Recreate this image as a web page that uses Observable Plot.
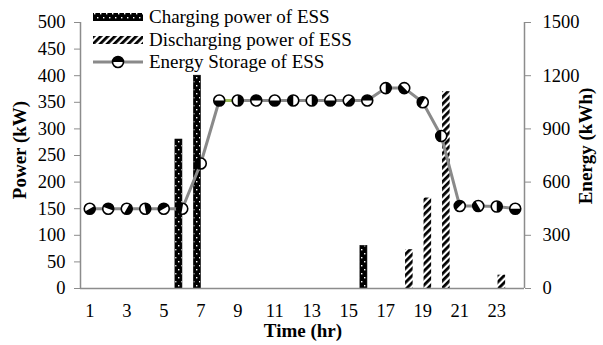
<!DOCTYPE html>
<html>
<head>
<meta charset="utf-8">
<script src="https://cdn.jsdelivr.net/npm/d3@7"></script>
<script src="https://cdn.jsdelivr.net/npm/@observablehq/plot@0.6"></script>
<style>
  body { margin: 0; background: #fff; }
  #wrap { position: relative; width: 603px; height: 345px; font-family: "Liberation Serif", "Times New Roman", serif; }
  #wrap svg text { font-family: "Liberation Serif", "Times New Roman", serif !important; }
  .lg { position: absolute; left: 93px; height: 22px; display: flex; align-items: center; font-size: 19px; color: #000; white-space: nowrap; }
  .lg svg { margin-right: 6px; }
  .ttl { position: absolute; font-weight: bold; font-size: 19px; color: #000; white-space: nowrap; line-height: 1; }
</style>
</head>
<body>
<svg width="0" height="0" style="position:absolute">
  <defs>
    <pattern id="chargePat" patternUnits="userSpaceOnUse" width="6" height="8">
      <rect width="6" height="8" fill="#000"></rect>
      <rect x="1" y="1" width="1.4" height="1.4" fill="#fff"></rect>
      <rect x="4" y="5" width="1.4" height="1.4" fill="#fff"></rect>
    </pattern>
    <pattern id="dischargePat" patternUnits="userSpaceOnUse" width="5" height="5" patternTransform="rotate(45)">
      <rect width="5" height="5" fill="#fff"></rect>
      <rect width="2.8" height="5" fill="#000"></rect>
    </pattern>
  </defs>
</svg>
<div id="wrap"></div>
<script>
// ---- data ----
const hours = d3.range(1, 25);
const chargingPower = [0,0,0,0,0,280,400,0,0,0,0,0,0,0,0,80,0,0,0,0,0,0,0,0];
const dischargingPower = [0,0,0,0,0,0,0,0,0,0,0,0,0,0,0,0,0,73,170,370,0,0,25,0];
const energyStorage = [450,450,450,450,450,450,705,1060,1060,1060,1060,1060,1060,1060,1060,1060,1130,1130,1050,860,465,465,462,450];
const xTickLabels = [1,3,5,7,9,11,13,15,17,19,21,23];
const powerTicks = [0,50,100,150,200,250,300,350,400,450,500];
const energyTicks = [0,300,600,900,1200,1500];
const seriesNames = ["Charging power of ESS", "Discharging power of ESS", "Energy Storage of ESS"];
const axisTitles = {y: "Power (kW)", y2: "Energy (kWh)", x: "Time (hr)"};

// ---- tables ----
const chargeRows = hours.map((h, i) => ({hour: h, value: chargingPower[i]})).filter(d => d.value > 0);
const dischargeRows = hours.map((h, i) => ({hour: h, value: dischargingPower[i]})).filter(d => d.value > 0);
const energyRows = hours.map((h, i) => ({hour: h, energy: energyStorage[i]}));
const ratio = 3; // right axis (kWh) / left axis (kW)

// marker styling (half-filled circles, orientation varies)
const markerAngles = [-30,200,-60,-100,150,100,90,0,-90,180,0,90,270,0,-45,180,-90,45,120,90,135,60,270,0];
function halfDisk(deg) {
  const a = deg * Math.PI / 180;
  return {draw(ctx, size) {
    const r = Math.sqrt(size / Math.PI);
    ctx.moveTo(0, 0);
    ctx.lineTo(r * Math.cos(a), r * Math.sin(a));
    ctx.arc(0, 0, r, a, a + Math.PI);
    ctx.closePath();
  }};
}
const uniqueAngles = Array.from(new Set(markerAngles));
const halfMarks = uniqueAngles.map(ang => Plot.dot(
  energyRows.filter((d, i) => markerAngles[i] === ang),
  {x: "hour", y: d => d.energy / ratio, r: 5.5, symbol: halfDisk(ang), fill: "#000", stroke: "none"}
));

const gray = "#8c8c8c";
const ff = "Liberation Serif";
const chart = Plot.plot({
  width: 603,
  height: 345,
  marginLeft: 80,
  marginRight: 79,
  marginTop: 22,
  marginBottom: 57,
  style: {fontFamily: "'Liberation Serif', 'Times New Roman', serif", fontSize: "18px", color: "#000", background: "transparent"},
  x: {domain: [0.5, 24.5], axis: null},
  y: {domain: [0, 500], axis: null},
  marks: [
    Plot.rectY(chargeRows, {x1: d => d.hour - 0.37, x2: d => d.hour + 0.01, y: "value", fill: "url(#chargePat)", stroke: "#000", strokeWidth: 0.6}),
    Plot.rectY(dischargeRows, {x1: d => d.hour + 0.07, x2: d => d.hour + 0.48, y: "value", fill: "url(#dischargePat)"}),
    Plot.ruleX([0.5], {stroke: gray, strokeWidth: 1.5}),
    Plot.ruleX([24.5], {stroke: gray, strokeWidth: 1.5}),
    Plot.ruleY([0], {stroke: gray, strokeWidth: 1.5}),
    Plot.axisY(powerTicks, {anchor: "left", tickSize: 6, tickPadding: 9, stroke: gray, fill: "#000", fontFamily: ff, fontSize: 18.5, label: null}),
    Plot.axisY(energyTicks.map(v => v / ratio), {anchor: "right", tickSize: 6, tickPadding: 12, stroke: gray, fill: "#000", fontFamily: ff, fontSize: 18.5, tickFormat: d => String(Math.round(d * ratio)), label: null}),
    Plot.axisX(xTickLabels, {anchor: "bottom", tickSize: 0, tickPadding: 15, fill: "#000", fontFamily: ff, fontSize: 18.5, tickFormat: d => String(d), label: null}),
    Plot.line(energyRows, {x: "hour", y: d => d.energy / ratio, stroke: "#8a8a8a", strokeWidth: 3}),
    Plot.line(energyRows.filter(d => d.hour >= 8 && d.hour <= 9), {x: "hour", y: d => d.energy / ratio, stroke: "#9bbb59", strokeWidth: 3}),
    Plot.dot(energyRows, {x: "hour", y: d => d.energy / ratio, r: 5.5, fill: "#fff", stroke: "none"}),
    ...halfMarks,
    Plot.dot(energyRows, {x: "hour", y: d => d.energy / ratio, r: 5.5, fill: "none", stroke: "#000", strokeWidth: 1.6})
  ]
});
const wrap = document.getElementById("wrap");
wrap.appendChild(chart);
d3.select(chart).selectAll("text").style("font-family", "'Liberation Serif', 'Times New Roman', serif");

// ---- axis titles ----
function addTitle(text, cx, cy, rot) {
  const el = document.createElement("div");
  el.className = "ttl";
  el.textContent = text;
  el.style.left = cx + "px";
  el.style.top = cy + "px";
  el.style.transform = `translate(-50%,-50%)` + (rot ? ` rotate(${rot}deg)` : "");
  wrap.appendChild(el);
}
addTitle(axisTitles.y, 19, 150, -90);
addTitle(axisTitles.y2, 585, 146, -90);
addTitle(axisTitles.x, 303, 330, 0);

// ---- legend ----
const rowTops = [6, 29, 51];
const swatches = [
  `<svg width="50" height="10"><rect x="0" y="1" width="50" height="8" fill="url(#chargePat)"></rect></svg>`,
  `<svg width="50" height="10"><rect x="0" y="1" width="50" height="8" fill="url(#dischargePat)"></rect></svg>`,
  `<svg width="50" height="14"><line x1="0" x2="50" y1="7" y2="7" stroke="#8a8a8a" stroke-width="3"></line><circle cx="25" cy="7" r="5.5" fill="#fff"></circle><path d="M19.5,7 A5.5,5.5 0 0 1 30.5,7 Z" fill="#000"></path><circle cx="25" cy="7" r="5.5" fill="none" stroke="#000" stroke-width="1.6"></circle></svg>`
];
seriesNames.forEach((name, i) => {
  const row = document.createElement("div");
  row.className = "lg";
  row.style.top = rowTops[i] + "px";
  row.innerHTML = swatches[i] + `<span>${name}</span>`;
  wrap.appendChild(row);
});
</script>
</body>
</html>
